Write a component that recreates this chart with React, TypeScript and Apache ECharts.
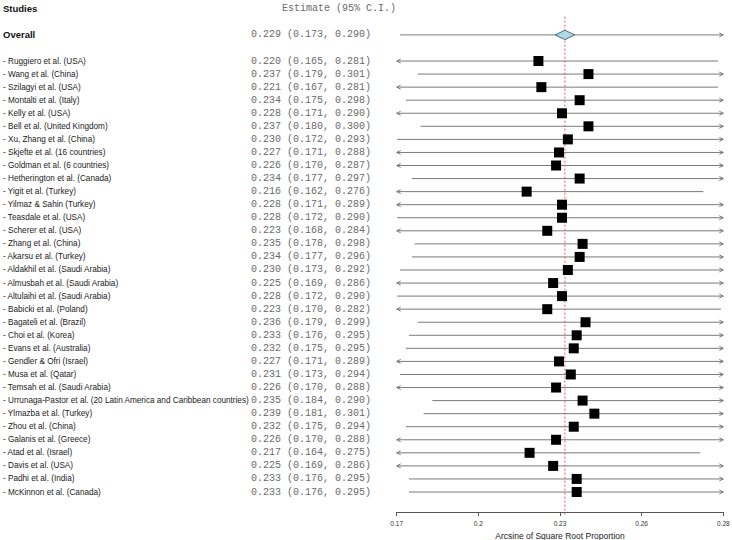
import React, { useEffect, useRef } from "react";
import * as echarts from "echarts";

const STUDIES = [
  "- Ruggiero et al. (USA)",
  "- Wang et al. (China)",
  "- Szilagyi et al. (USA)",
  "- Montalti et al. (Italy)",
  "- Kelly et al. (USA)",
  "- Bell et al. (United Kingdom)",
  "- Xu, Zhang et al. (China)",
  "- Skjefte et al. (16 countries)",
  "- Goldman et al. (6 countries)",
  "- Hetherington et al. (Canada)",
  "- Yigit et al. (Turkey)",
  "- Yilmaz & Sahin (Turkey)",
  "- Teasdale et al. (USA)",
  "- Scherer et al. (USA)",
  "- Zhang et al. (China)",
  "- Akarsu et al. (Turkey)",
  "- Aldakhil et al. (Saudi Arabia)",
  "- Almusbah et al. (Saudi Arabia)",
  "- Altulaihi et al. (Saudi Arabia)",
  "- Babicki et al. (Poland)",
  "- Bagateli et al. (Brazil)",
  "- Choi et al. (Korea)",
  "- Evans et al. (Australia)",
  "- Gendler & Ofri (Israel)",
  "- Musa et al. (Qatar)",
  "- Temsah et al. (Saudi Arabia)",
  "- Urrunaga-Pastor et al. (20 Latin America and Caribbean countries)",
  "- Ylmazba et al. (Turkey)",
  "- Zhou et al. (China)",
  "- Galanis et al. (Greece)",
  "- Atad et al. (Israel)",
  "- Davis et al. (USA)",
  "- Padhi et al. (India)",
  "- McKinnon et al. (Canada)",
];

const ESTIMATES = [
  0.220, 0.237, 0.221, 0.234, 0.228, 0.237, 0.230, 0.227, 0.226, 0.234,
  0.216, 0.228, 0.228, 0.223, 0.235, 0.234, 0.230, 0.225, 0.228, 0.223,
  0.236, 0.233, 0.232, 0.227, 0.231, 0.226, 0.235, 0.239, 0.232, 0.226,
  0.217, 0.225, 0.233, 0.233,
];

const LOWER = [
  0.165, 0.179, 0.167, 0.175, 0.171, 0.180, 0.172, 0.171, 0.170, 0.177,
  0.162, 0.171, 0.172, 0.168, 0.178, 0.177, 0.173, 0.169, 0.172, 0.170,
  0.179, 0.176, 0.175, 0.171, 0.173, 0.170, 0.184, 0.181, 0.175, 0.170,
  0.164, 0.169, 0.176, 0.176,
];

const UPPER = [
  0.281, 0.301, 0.281, 0.298, 0.290, 0.300, 0.293, 0.288, 0.287, 0.297,
  0.276, 0.289, 0.290, 0.284, 0.298, 0.296, 0.292, 0.286, 0.290, 0.282,
  0.299, 0.295, 0.295, 0.289, 0.294, 0.288, 0.290, 0.301, 0.294, 0.288,
  0.275, 0.286, 0.295, 0.295,
];

const OVERALL_LABEL = "Overall";
const OVERALL_EST = 0.229;
const OVERALL_LO = 0.173;
const OVERALL_HI = 0.29;
const DIAMOND_LO = 0.2257;
const DIAMOND_HI = 0.2323;

const TICK_VALUES = [0.17187, 0.1996, 0.22733, 0.25506, 0.28279];
const TICK_LABELS = ["0.17", "0.2", "0.23", "0.26", "0.28"];

const AXIS_TITLE = "Arcsine of Square Root Proportion";
const HEADER_STUDIES = "Studies";
const HEADER_ESTIMATE = "Estimate (95% C.I.)";

const AXIS_MIN = TICK_VALUES[0];
const AXIS_MAX = TICK_VALUES[TICK_VALUES.length - 1];

const SANS = '"Liberation Sans", Arial, sans-serif';
const MONO = '"Liberation Mono", "Courier New", monospace';
const LINE_COLOR = "#7a7a7a";

const fmt = (e: number, l: number, h: number) =>
  `${e.toFixed(3)} (${l.toFixed(3)}, ${h.toFixed(3)})`;

export default function App() {
  const ref = useRef<HTMLDivElement>(null);

  useEffect(() => {
    document.body.style.margin = "0";
    if (!ref.current) return;
    const chart = echarts.init(ref.current, undefined, { renderer: "svg" });

    // row 0 = overall, rows 2.. = studies
    const data: number[][] = [[OVERALL_EST, 0, OVERALL_LO, OVERALL_HI, -1]];
    STUDIES.forEach((_, i) => {
      data.push([ESTIMATES[i], i + 2, LOWER[i], UPPER[i], i]);
    });

    const renderItem = (params: any, api: any) => {
      const est = api.value(0);
      const row = api.value(1);
      const lo = api.value(2);
      const hi = api.value(3);
      const idx = api.value(4);
      const isOverall = idx < 0;
      const [cx, cy] = api.coord([est, row]);
      const loC = Math.max(lo, AXIS_MIN);
      const hiC = Math.min(hi, AXIS_MAX);
      const [x1] = api.coord([loC, row]);
      const [x2] = api.coord([hiC, row]);
      const children: any[] = [];

      children.push({
        type: "line",
        shape: { x1, y1: cy, x2, y2: cy },
        style: { stroke: LINE_COLOR, lineWidth: 1 },
      });
      if (lo < AXIS_MIN) {
        children.push({
          type: "polyline",
          shape: { points: [[x1 + 4, cy - 2], [x1, cy], [x1 + 4, cy + 2]] },
          style: { stroke: LINE_COLOR, lineWidth: 1, fill: null },
        });
      }
      if (hi > AXIS_MAX) {
        children.push({
          type: "polyline",
          shape: { points: [[x2 - 4, cy - 2], [x2, cy], [x2 - 4, cy + 2]] },
          style: { stroke: LINE_COLOR, lineWidth: 1, fill: null },
        });
      }

      if (isOverall) {
        const [dl] = api.coord([DIAMOND_LO, row]);
        const [dr] = api.coord([DIAMOND_HI, row]);
        const [, dt] = api.coord([est, row - 0.36]);
        const [, db] = api.coord([est, row + 0.36]);
        const [, lt] = api.coord([est, -1.4]);
        const [, lb] = api.coord([est, 36.76]);
        children.push({
          type: "line",
          shape: { x1: cx, y1: lt, x2: cx, y2: lb },
          style: { stroke: "#e8585a", lineWidth: 1, lineDash: [2, 2] },
          z2: 1,
        });
        children.push({
          type: "polygon",
          shape: { points: [[dl, cy], [cx, dt], [dr, cy], [cx, db]] },
          style: { fill: "#add8e6", stroke: "#4f6b80", lineWidth: 1 },
          z2: 5,
        });
        children.push({
          type: "text",
          style: {
            text: OVERALL_LABEL,
            x: 3,
            y: cy,
            font: `bold 9.5px ${SANS}`,
            fill: "#111",
            textAlign: "left",
            textVerticalAlign: "middle",
          },
        });
      } else {
        children.push({
          type: "rect",
          shape: { x: cx - 5, y: cy - 5, width: 10, height: 10 },
          style: { fill: "#000" },
          z2: 5,
        });
        children.push({
          type: "text",
          style: {
            text: STUDIES[idx],
            x: 3,
            y: cy,
            font: `8.2px ${SANS}`,
            fill: "#1a1a1a",
            textAlign: "left",
            textVerticalAlign: "middle",
          },
        });
      }
      children.push({
        type: "text",
        style: {
          text: fmt(est, lo, hi),
          x: 251,
          y: cy,
          font: `10px ${MONO}`,
          fill: "#6a6a6a",
          textAlign: "left",
          textVerticalAlign: "middle",
        },
      });
      return { type: "group", children };
    };

    chart.setOption({
      animation: false,
      grid: { left: 396.7, right: 8.7, top: 0, height: 512, outerBoundsMode: "none" },
      xAxis: {
        type: "value",
        min: AXIS_MIN,
        max: AXIS_MAX,
        position: "bottom",
        axisLine: { show: true, onZero: false, lineStyle: { color: "#555", width: 1 } },
        axisTick: {
          show: true,
          length: 4,
          customValues: TICK_VALUES,
          lineStyle: { color: "#555" },
        },
        axisLabel: {
          customValues: TICK_VALUES,
          margin: 8,
          fontSize: 6.5,
          fontFamily: SANS,
          color: "#333",
          formatter: (v: number) => {
            let best = 0;
            TICK_VALUES.forEach((t, i) => {
              if (Math.abs(t - v) < Math.abs(TICK_VALUES[best] - v)) best = i;
            });
            return TICK_LABELS[best];
          },
        },
        splitLine: { show: false },
        name: AXIS_TITLE,
        nameLocation: "middle",
        nameGap: 15,
        nameTextStyle: { fontSize: 8.5, fontFamily: SANS, color: "#222" },
      },
      yAxis: {
        type: "value",
        inverse: true,
        min: -2.672,
        max: 36.53,
        show: false,
      },
      graphic: [
        {
          type: "text",
          left: 3,
          top: 3.5,
          style: {
            text: HEADER_STUDIES,
            font: `bold 9.5px ${SANS}`,
            fill: "#111",
          },
        },
        {
          type: "text",
          left: 282,
          top: 3,
          style: {
            text: HEADER_ESTIMATE,
            font: `10px ${MONO}`,
            fill: "#6a6a6a",
          },
        },
      ],
      series: [
        {
          type: "custom",
          clip: false,
          renderItem,
          encode: { x: 0, y: 1 },
          data,
        },
      ],
    });

    return () => chart.dispose();
  }, []);

  return <div ref={ref} style={{ width: 732, height: 540 }} />;
}
